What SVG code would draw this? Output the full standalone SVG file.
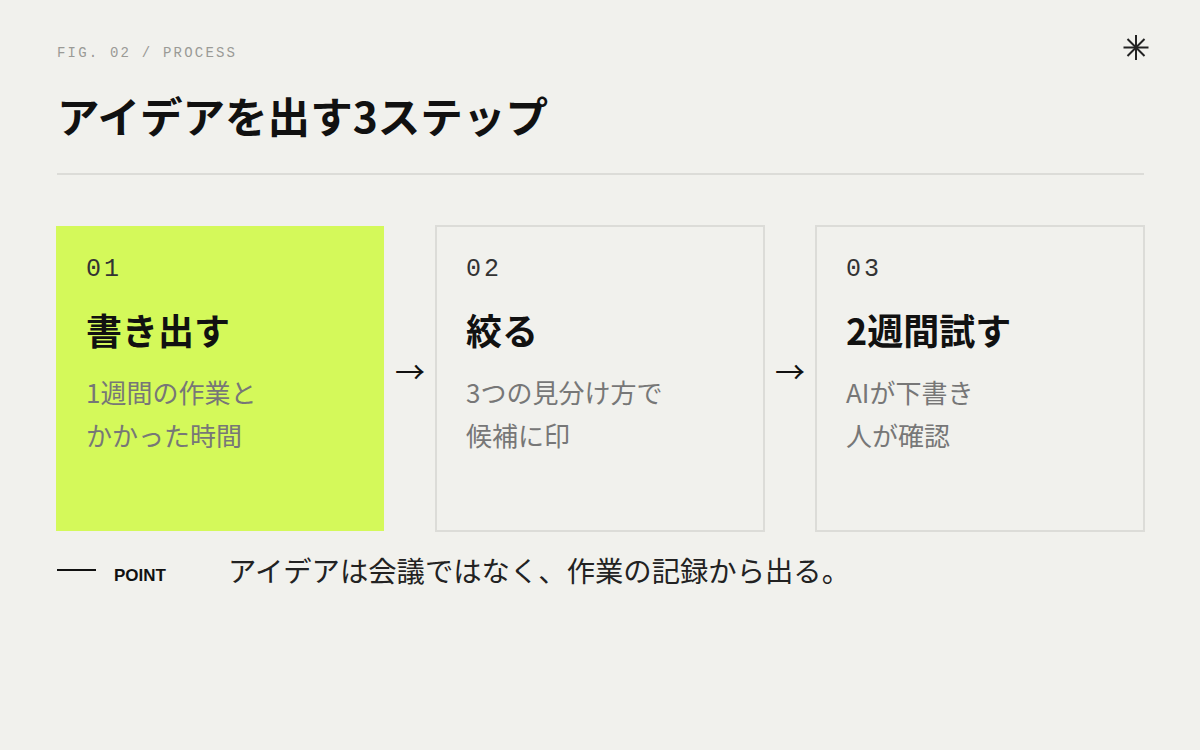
<svg xmlns="http://www.w3.org/2000/svg" width="1200" height="750" viewBox="0 0 1200 750">
<style>
.jp{font-family:"Noto Sans CJK JP","Noto Sans",sans-serif}
.mono{font-family:"Liberation Mono","DejaVu Sans Mono",monospace}
.box{fill:none;stroke:#dcdcd8;stroke-width:2}
.num{font-family:"Liberation Mono",monospace;font-size:25px;fill:#333;letter-spacing:3px}
.head{font-family:"Noto Sans CJK JP",sans-serif;font-size:36px;font-weight:700;fill:#111}
.desc{font-family:"Noto Sans CJK JP",sans-serif;font-size:26px;fill:#777}
.arrow{font-family:"Noto Sans CJK JP",sans-serif;font-size:30px;fill:#111}
</style>
<rect width="1200" height="750" fill="#f1f1ed"/>
<g id="header">
<text x="57" y="57" class="mono" font-size="14" fill="#9a9a96" letter-spacing="2.2">FIG. 02 / PROCESS</text>
<text x="57" y="133" class="jp" font-size="42" font-weight="700" fill="#111" textLength="491" lengthAdjust="spacingAndGlyphs">アイデアを出す3ステップ</text>
<line x1="57" y1="174" x2="1144" y2="174" stroke="#dcdcd8" stroke-width="2"/>
<g stroke="#222" stroke-width="2">
<line x1="1136" y1="35" x2="1136" y2="60"/>
<line x1="1123.5" y1="47.5" x2="1148.5" y2="47.5"/>
<line x1="1127.5" y1="39" x2="1144.5" y2="56"/>
<line x1="1144.5" y1="39" x2="1127.5" y2="56"/>
</g>
</g>
<g id="step1">
<rect x="56" y="226" width="328" height="305" fill="#d4f95a"/>
<text x="86" y="276" class="num">01</text>
<text x="86" y="345" class="head" font-weight="500">書き出す</text>
<text x="86" y="403" class="desc">1週間の作業と</text>
<text x="86" y="446" class="desc">かかった時間</text>
</g>
<g id="step2">
<rect x="436" y="226" width="328" height="305" class="box"/>
<text x="466" y="276" class="num">02</text>
<text x="466" y="345" class="head">絞る</text>
<text x="466" y="403" class="desc">3つの見分け方で</text>
<text x="466" y="446" class="desc">候補に印</text>
</g>
<g id="step3">
<rect x="816" y="226" width="328" height="305" class="box"/>
<text x="846" y="276" class="num">03</text>
<text x="846" y="345" class="head">2週間試す</text>
<text x="846" y="403" class="desc">AIが下書き</text>
<text x="846" y="446" class="desc">人が確認</text>
</g>
<g id="connectors">
<text x="410" y="383" class="arrow" text-anchor="middle">→</text>
<text x="790" y="383" class="arrow" text-anchor="middle">→</text>
</g>
<g id="point">
<line x1="57" y1="570" x2="96" y2="570" stroke="#111" stroke-width="2"/>
<text x="114" y="581" font-family="Liberation Sans,sans-serif" font-size="17" font-weight="700" fill="#111">POINT</text>
<text x="228" y="582" class="jp" font-size="28" fill="#222" textLength="622" lengthAdjust="spacingAndGlyphs">アイデアは会議ではなく、作業の記録から出る。</text>
</g>
</svg>
